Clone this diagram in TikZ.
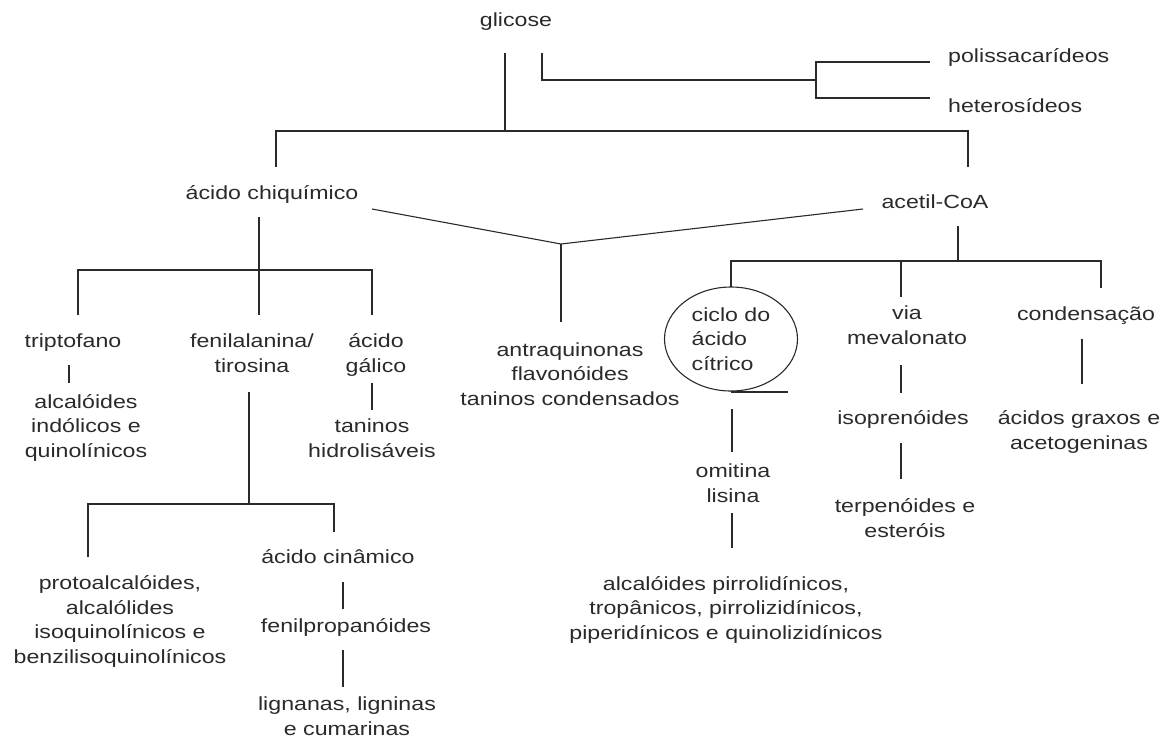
\documentclass[tikz,border=0pt]{standalone}
\usepackage{fontspec}
\setmainfont{Liberation Sans}[FakeStretch=1.22]
\usetikzlibrary{shapes.geometric}
\definecolor{ink}{HTML}{2A2A2A}
\begin{document}
\begin{tikzpicture}[x=1pt,y=-1pt,
  txt/.style={font=\fontsize{19}{24.5}\selectfont, text=ink, align=center, inner sep=0pt, anchor=base},
  ln/.style={draw=ink, line width=1.1pt}]
\useasboundingbox (0,0) rectangle (1173,740);
% text nodes (anchor=base = baseline of the last line)
\node[txt] (glicose) at (516,26) {glicose};
\node[txt, anchor=base west] (polis) at (948,62) {polissacarídeos};
\node[txt, anchor=base west] (hetero) at (948,112) {heterosídeos};
\node[txt] (chiq) at (272,199) {ácido chiquímico};
\node[txt] (acetil) at (935,208) {acetil-CoA};
\node[txt] (antra) at (570,405) {antraquinonas\\flavonóides\\taninos condensados};
\node[txt] (tripto) at (73,347) {triptofano};
\node[txt] (alcind) at (86,457) {alcalóides\\indólicos e\\quinolínicos};
\node[txt] (fenil) at (252,372) {fenilalanina/\\tirosina};
\node[txt] (galico) at (376,372) {ácido\\gálico};
\node[txt] (taninosh) at (372,457) {taninos\\hidrolisáveis};
\node[txt] (proto) at (120,663) {protoalcalóides,\\alcalólides\\isoquinolínicos e\\benzilisoquinolínicos};
\node[txt] (cinam) at (338,563) {ácido cinâmico};
\node[txt] (fenilprop) at (346,632) {fenilpropanóides};
\node[txt] (lignanas) at (347,735) {lignanas, ligninas\\e cumarinas};
\node[txt, anchor=center, align=left, draw=ink, line width=1.1pt, ellipse, minimum width=133pt, minimum height=104pt] (ciclo) at (731,339) {ciclo do\\ácido\\cítrico};
\node[txt] (omit) at (733,502) {omitina\\lisina};
\node[txt] (alcpir) at (726,639) {alcalóides pirrolidínicos,\\tropânicos, pirrolizidínicos,\\piperidínicos e quinolizidínicos};
\node[txt] (via) at (907,344) {via\\mevalonato};
\node[txt] (isopr) at (903,424) {isoprenóides};
\node[txt] (terp) at (905,537) {terpenóides e\\esteróis};
\node[txt] (cond) at (1086,320) {condensação};
\node[txt] (acidos) at (1079,449) {ácidos graxos e\\acetogeninas};
% coordinates
\coordinate (g1) at (505,53); \coordinate (g2) at (505,131);
\coordinate (s1) at (542,53); \coordinate (s2) at (542,80); \coordinate (s3) at (816,80);
\coordinate (p1) at (930,62); \coordinate (p2) at (816,62); \coordinate (p3) at (816,98); \coordinate (p4) at (930,98);
\coordinate (t1) at (276,167); \coordinate (t2) at (276,131); \coordinate (t3) at (968,131); \coordinate (t4) at (968,167);
\coordinate (v1) at (372,209); \coordinate (v2) at (561,244); \coordinate (v3) at (863,209); \coordinate (v4) at (561,322);
\coordinate (c1) at (259,217);
\coordinate (c3) at (78,315); \coordinate (c4) at (78,270); \coordinate (c5) at (372,270); \coordinate (c6) at (372,315);
\coordinate (c7) at (259,315);
\coordinate (tr1) at (69,365); \coordinate (tr2) at (69,383);
\coordinate (ga1) at (372,383); \coordinate (ga2) at (372,410);
\coordinate (f1) at (249,392); \coordinate (f2) at (249,504);
\coordinate (f3) at (88,557); \coordinate (f4) at (88,504); \coordinate (f5) at (334,504); \coordinate (f6) at (334,532);
\coordinate (ci1) at (343,582); \coordinate (ci2) at (343,609);
\coordinate (ci3) at (343,650); \coordinate (ci4) at (343,687);
\coordinate (a1) at (958,226); \coordinate (a2) at (958,261);
\coordinate (a3) at (731,287); \coordinate (a4) at (731,261); \coordinate (a5) at (1101,261); \coordinate (a6) at (1101,288);
\coordinate (a7) at (901,261); \coordinate (a8) at (901,297);
\coordinate (k1) at (731,392); \coordinate (k2) at (788,392);
\coordinate (k3) at (732,409); \coordinate (k4) at (732,452);
\coordinate (k5) at (732,513); \coordinate (k6) at (732,548);
\coordinate (m1) at (901,365); \coordinate (m2) at (901,393);
\coordinate (m3) at (901,443); \coordinate (m4) at (901,479);
\coordinate (n1) at (1082,339); \coordinate (n2) at (1082,384);
% connectors
\draw[ln] (g1) -- (g2);
\draw[ln] (s1) -- (s2) -- (s3);
\draw[ln] (p1) -- (p2) -- (p3) -- (p4);
\draw[ln] (t1) -- (t2) -- (t3) -- (t4);
\draw[ln] (v1) -- (v2) -- (v3);
\draw[ln] (v2) -- (v4);
\draw[ln] (c1) -- (c7);
\draw[ln] (c3) -- (c4) -- (c5) -- (c6);
\draw[ln] (tr1) -- (tr2);
\draw[ln] (ga1) -- (ga2);
\draw[ln] (f1) -- (f2);
\draw[ln] (f3) -- (f4) -- (f5) -- (f6);
\draw[ln] (ci1) -- (ci2);
\draw[ln] (ci3) -- (ci4);
\draw[ln] (a1) -- (a2);
\draw[ln] (a3) -- (a4) -- (a5) -- (a6);
\draw[ln] (a7) -- (a8);
\draw[ln] (k1) -- (k2);
\draw[ln] (k3) -- (k4);
\draw[ln] (k5) -- (k6);
\draw[ln] (m1) -- (m2);
\draw[ln] (m3) -- (m4);
\draw[ln] (n1) -- (n2);
\end{tikzpicture}
\end{document}
